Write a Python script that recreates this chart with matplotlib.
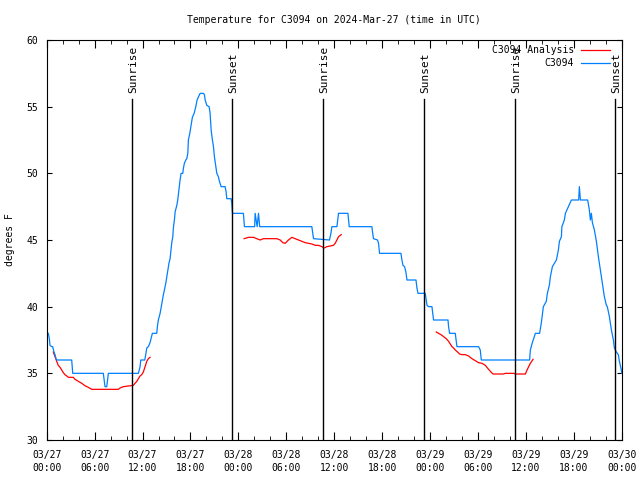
import numpy as np
import matplotlib
matplotlib.use("Agg")
import matplotlib.pyplot as plt
from matplotlib.ticker import MultipleLocator

# temps : heures depuis le 03/27 00:00 UTC, degres F
obs_h = [0.2, 0.33, 0.41, 0.63, 0.75, 0.91, 1.04, 1.17, 1.25, 3.13, 3.26, 7.09, 7.3, 7.52, 7.72,
         11.48, 11.69, 11.78, 12.28, 12.4, 12.53, 12.73, 12.94, 13.07, 13.23, 13.78, 13.86, 13.98,
         14.2, 14.32, 14.49, 14.61, 14.74, 14.91, 15.04, 15.16, 15.32, 15.45, 15.57, 15.66, 15.79,
         15.86, 15.99, 16.08, 16.29, 16.41, 16.49, 16.62, 16.7, 16.83, 17.04, 17.12, 17.24, 17.42,
         17.54, 17.67, 17.74, 17.92, 18.24, 18.46, 18.67, 18.83, 19.21, 19.62, 19.75, 19.84, 20.05,
         20.34, 20.46, 20.59, 20.75, 20.88, 21.0, 21.18, 21.3, 21.5, 21.63, 21.84, 22.34, 22.47,
         22.55, 23.09, 23.18, 23.26, 24.63, 24.76, 26.04, 26.1, 26.23, 26.35, 26.52, 26.67, 33.2,
         33.41, 35.41, 35.59, 35.71, 36.34, 36.54, 37.72, 37.88, 40.72, 40.8, 40.92, 41.43, 41.55,
         41.68, 44.36, 44.48, 44.61, 44.81, 44.98, 45.11, 46.24, 46.36, 46.49, 47.4, 47.62, 47.82,
         48.24, 48.44, 50.25, 50.32, 50.45, 51.16, 51.37, 54.08, 54.29, 54.42, 60.47, 60.56, 60.81,
         61.19, 61.72, 61.94, 62.06, 62.19, 62.56, 62.69, 62.94, 63.07, 63.32, 63.82, 64.07, 64.2,
         64.45, 64.51, 64.82, 64.95, 65.33, 65.7, 66.61, 66.7, 66.83, 67.74, 67.95, 68.08, 68.2,
         68.33, 68.58, 68.83, 69.08, 69.33, 69.58, 69.83, 70.08, 70.2, 70.46, 70.71, 70.96, 71.08,
         71.33, 71.58, 71.71, 71.96, 72.0]
obs_t = [38, 37.6, 37.1, 37, 37, 36.6, 36.4, 36.1, 36, 36, 35, 35, 34, 34, 35,
         35, 35.5, 36, 36, 36.4, 36.9, 37, 37.3, 37.6, 38, 38, 38.5, 39,
         39.5, 39.9, 40.5, 40.9, 41.25, 41.75, 42.25, 42.75, 43.3, 43.6, 44.25, 44.8, 45.25,
         45.9, 46.5, 47.1, 47.6, 48, 48.4, 49, 49.5, 50, 50, 50.4, 50.75, 51,
         51.1, 51.5, 52.5, 53, 54.2, 54.5, 55, 55.5, 56, 56, 55.9, 55.5, 55.1,
         55, 54.5, 53.25, 52.5, 52, 51.25, 50.5, 50, 49.75, 49.4, 49, 49, 48.6,
         48.1, 48.1, 47.75, 47, 47, 46, 46, 47, 46.5, 46, 47, 46, 46,
         45.1, 45, 45.5, 46, 46, 47, 47, 46, 46, 45.6, 45.1, 45, 44.75,
         44, 44, 43.5, 43.1, 43, 42.6, 42, 42, 41.4, 41, 41, 40.1, 40,
         40, 39, 39, 38.5, 38, 38, 37, 37, 36.75, 36, 36, 36.75, 37.3,
         38, 38, 38.8, 39.4, 40, 40.4, 41, 41.6, 42.25, 43, 43.5, 44.25, 44.9,
         45.25, 46, 46.5, 47, 47.5, 48, 48, 49, 48, 48, 47.25, 46.5, 47,
         46.3, 45.75, 44.9, 43.75, 42.75, 41.75, 40.75, 40.1, 40, 39.25, 38.25, 37.5, 36.9,
         36.6, 36.4, 35.9, 35.25, 35]

# analyse (rouge), trois morceaux separes par nan
ana_h = [0.83, 1.04, 1.25, 1.45, 1.67, 1.88, 2.08, 2.29, 2.51, 2.71, 3.33, 3.55, 3.96, 4.39, 4.8,
         5.21, 5.64, 8.97, 9.18, 9.6, 10.22, 10.85, 11.06, 11.28, 11.48, 11.69, 11.9, 12.1, 12.32,
         12.53, 12.73, 12.94, np.nan,
         24.72, 25.26, 25.89, 26.31, 26.73, 27.14, 27.57, 28.82, 29.23, 29.57, 29.86, 30.27, 30.7,
         31.11, 31.53, 31.95, 32.37, 32.78, 33.2, 33.62, 34.03, 34.46, 34.75, 35.08, 35.5, 35.91,
         36.12, 36.34, 36.54, 36.88, np.nan,
         48.78, 49.07, 49.37, 49.7, 50.03, 50.32, 50.53, 50.75, 50.95, 51.16, 51.45, 51.7, 52.0,
         52.41, 52.83, 53.25, 53.67, 54.08, 54.51, 54.92, 55.33, 55.63, 55.88, 57.21, 57.43, 58.47,
         58.68, 59.94, 60.15, 60.35, 60.56, 60.9]
ana_t = [36.6, 36.25, 35.9, 35.6, 35.45, 35.25, 35.05, 34.9, 34.8, 34.7, 34.7, 34.55, 34.4, 34.25, 34.07,
         33.95, 33.8, 33.8, 33.9, 34, 34.05, 34.1, 34.25, 34.4, 34.6, 34.8, 34.9, 35.1, 35.5,
         35.9, 36.1, 36.2, np.nan,
         45.1, 45.2, 45.2, 45.1, 45.0, 45.1, 45.1, 45.1, 45, 44.8, 44.75, 45, 45.2,
         45.1, 45, 44.9, 44.8, 44.75, 44.7, 44.6, 44.6, 44.5, 44.4, 44.5, 44.55, 44.6,
         44.75, 45, 45.25, 45.4, np.nan,
         38.1, 38, 37.9, 37.75, 37.6, 37.4, 37.2, 37, 36.9, 36.75, 36.6, 36.45, 36.4,
         36.4, 36.3, 36.1, 35.95, 35.8, 35.75, 35.6, 35.3, 35.1, 34.95, 34.95, 35, 35,
         34.95, 34.95, 35.25, 35.5, 35.75, 36.05]

sun_h = [10.72, 23.16, 34.66, 47.19, 58.7, 71.15]
sun_lbl = ["Sunrise", "Sunset", "Sunrise", "Sunset", "Sunrise", "Sunset"]
jours = ["03/27", "03/28", "03/29", "03/30"]

font = "DejaVu Sans Mono"
plt.rcParams["font.family"] = font
plt.rcParams["font.size"] = 7

fig = plt.figure(figsize=(6.4, 4.8), dpi=100)
ax = fig.add_axes([46.7 / 640, 40 / 480, 575 / 640, 400 / 480])

bleu = "#0080ff"
ax.plot(ana_h, ana_t, color="red", lw=0.9)
ax.plot(obs_h, obs_t, color=bleu, lw=0.9)

for h, s in zip(sun_h, sun_lbl):
    ax.plot([h, h], [30, 55.6], color="black", lw=1.0)
    ax.text(h + 0.15, 56.05, s, rotation=90, ha="center", va="bottom", fontsize=8)

ax.set_xlim(0, 72)
ax.set_ylim(30, 60)
ax.xaxis.set_major_locator(MultipleLocator(6))
ax.xaxis.set_minor_locator(MultipleLocator(2))
ax.yaxis.set_major_locator(MultipleLocator(5))
ticks = list(range(0, 73, 6))
ax.set_xticks(ticks)
ax.set_xticklabels([f"{jours[h // 24]}\n{h % 24:02d}:00" for h in ticks], linespacing=1.35)
ax.tick_params(axis="x", which="major", direction="in", length=5.8, top=True, pad=7)
ax.tick_params(axis="x", which="minor", direction="in", length=2.9, top=True)
ax.tick_params(axis="y", which="major", direction="in", length=3.6, right=True, pad=6)

ax.text(0.5, 1.05, "Temperature for C3094 on 2024-Mar-27 (time in UTC)",
        transform=ax.transAxes, ha="center", va="center")
fig.text(10 / 640, 0.5, "degrees F", rotation=90, ha="center", va="center")

# legende faite a la main (texte aligne a droite comme gnuplot)
for yy, txt, c in [(0.975, "C3094 Analysis", "red"), (0.9425, "C3094", bleu)]:
    ax.text(0.917, yy, txt, transform=ax.transAxes, ha="right", va="center")
    ax.plot([0.929, 0.980], [yy, yy], color=c, lw=0.9, transform=ax.transAxes)

fig.savefig("out.png", dpi=100)
